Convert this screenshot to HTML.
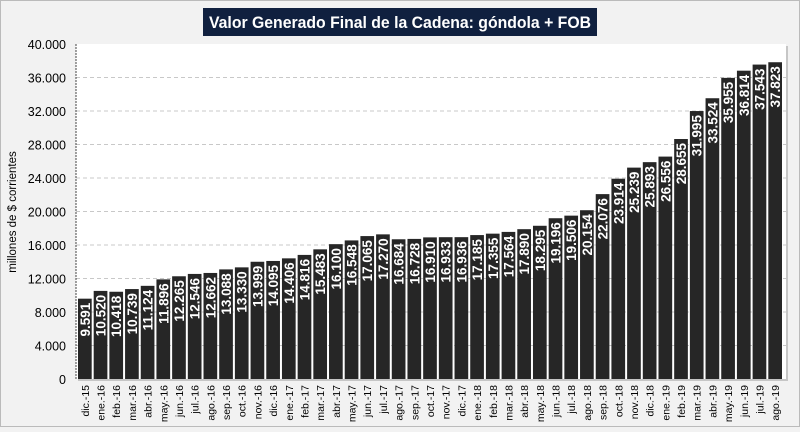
<!DOCTYPE html>
<html><head><meta charset="utf-8"><style>
body{margin:0;background:#f2f2f2;}
svg text{font-family:"Liberation Sans",sans-serif;}
</style></head><body>
<svg width="800" height="427" xmlns="http://www.w3.org/2000/svg">
<rect x="0.5" y="0.5" width="799" height="426" fill="#f2f2f2" stroke="#bbb"/>
<rect x="203" y="8" width="394" height="28" fill="#10203f"/>
<text x="209" y="28" textLength="382" lengthAdjust="spacingAndGlyphs" fill="#fff" font-size="17" font-weight="bold">Valor Generado Final de la Cadena: góndola + FOB</text>
<rect x="78" y="46" width="710" height="335" fill="#999" opacity="0.5"/>
<rect x="76" y="44" width="710" height="335" fill="#fff"/>
<g id="grid"></g><g id="bars"></g>
<text transform="translate(16,212) rotate(-90)" text-anchor="middle" font-size="11.5" fill="#000">millones de $ corrientes</text>
</svg>
<script>
const categories=["dic.-15","ene.-16","feb.-16","mar.-16","abr.-16","may.-16","jun.-16","jul.-16","ago.-16","sep.-16","oct.-16","nov.-16","dic.-16","ene.-17","feb.-17","mar.-17","abr.-17","may.-17","jun.-17","jul.-17","ago.-17","sep.-17","oct.-17","nov.-17","dic.-17","ene.-18","feb.-18","mar.-18","abr.-18","may.-18","jun.-18","jul.-18","ago.-18","sep.-18","oct.-18","nov.-18","dic.-18","ene.-19","feb.-19","mar.-19","abr.-19","may.-19","jun.-19","jul.-19","ago.-19"];
const values=[9591,10520,10418,10739,11124,11896,12265,12546,12662,13088,13330,13999,14095,14406,14816,15483,16100,16548,17065,17270,16684,16728,16910,16933,16936,17185,17355,17564,17890,18295,19196,19506,20154,22076,23914,25239,25893,26556,28655,31995,33524,35955,36814,37543,37823];
const yTicks=[0,4000,8000,12000,16000,20000,24000,28000,32000,36000,40000];
const NS="http://www.w3.org/2000/svg";
const X0=77,X1=783,Y0=379,Y1=44,YMAX=40000;
const slot=(X1-X0)/categories.length;
const y=v=>Y0-(v/YMAX)*(Y0-Y1);
const x=i=>X0+i*slot;
const fmt=v=>String(v).replace(/\B(?=(\d{3})+(?!\d))/g,".");
function mk(t,a,p){const e=document.createElementNS(NS,t);for(const k in a)e.setAttribute(k,a[k]);p.appendChild(e);return e;}
const grid=document.getElementById('grid'),bars=document.getElementById('bars');
yTicks.forEach(v=>{
  if(v>0&&v<YMAX){const l=mk('line',{x1:X0-1,x2:786,y1:y(v),y2:y(v),stroke:'#c8c8c8','stroke-dasharray':'4,3'},grid);
  
  }
  const t=mk('text',{x:66,y:y(v)+5,'text-anchor':'end','font-size':'12.5',fill:'#000'},grid);
  t.textContent=fmt(v);
  
  
});
const ax=mk('line',{x1:76,x2:76,y1:Y1,y2:Y0,stroke:'#444','stroke-dasharray':'2,1'},grid);


values.forEach((v,i)=>{
  const bx=x(i)+1,w=slot-2;
  const r=mk('rect',{x:bx,y:y(v),width:w,height:Y0-y(v),fill:'#262626'},bars);
  
  
  const cx=bx+w/2;
  const t=mk('text',{transform:`translate(${cx+5},${y(v)+4}) rotate(-90)`,'text-anchor':'end','font-size':'13.5','font-weight':'bold',fill:'#fff'},bars);
  t.textContent=fmt(v);
  
  
  const c=mk('text',{transform:`translate(${cx+4},${Y0+6}) rotate(-90)`,'text-anchor':'end','font-size':'10.5',fill:'#000'},bars);
  c.textContent=categories[i];
  
  
});
</script>
</body></html>
